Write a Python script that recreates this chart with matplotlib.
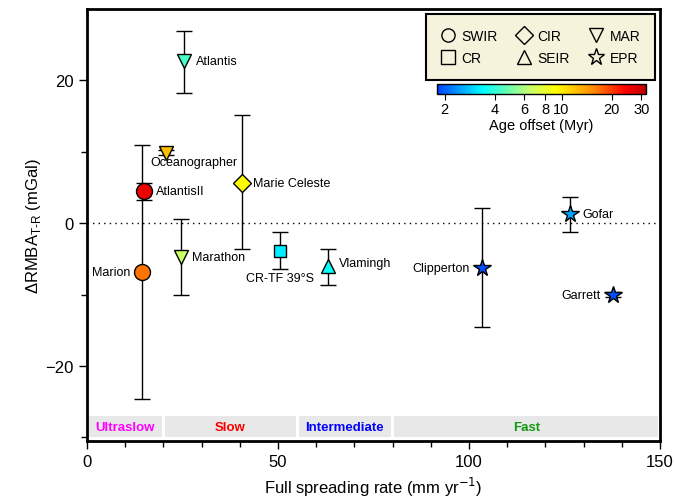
import numpy as np
import matplotlib
matplotlib.use("Agg")
import matplotlib.pyplot as plt
from matplotlib.colors import LinearSegmentedColormap, LogNorm
from matplotlib.lines import Line2D

plt.rcParams['font.family'] = ['Liberation Sans', 'DejaVu Sans']

# transform faults: name, ridge, full spreading rate, dRMBA, error, age offset
names = ["Marion", "AtlantisII", "Atlantis", "Oceanographer", "Marathon",
         "Marie Celeste", "CR-TF 39°S", "Vlamingh", "Clipperton", "Gofar", "Garrett"]
ridges = ["SWIR", "SWIR", "MAR", "MAR", "MAR", "CIR", "CR", "SEIR", "EPR", "EPR", "EPR"]
rate = [14.3, 14.8, 25.4, 20.7, 24.5, 40.5, 50.5, 63.0, 103.3, 126.5, 137.6]
drmba = [-6.9, 4.5, 22.7, 9.9, -4.8, 5.7, -3.9, -6.0, -6.3, 1.3, -10.0]
err_lo = [17.7, 1.3, 4.4, 0.4, 5.2, 9.3, 2.5, 2.7, 8.2, 2.5, 0.3]
err_hi = [17.8, 1.2, 4.2, 0.4, 5.4, 9.4, 2.6, 2.4, 8.4, 2.4, 0.3]
age = [16.5, 26.0, 4.3, 12.3, 6.6, 9.5, 3.2, 3.5, 1.9, 2.5, 1.9]

ridge_marker = {"SWIR": "o", "CR": "s", "CIR": "D", "SEIR": "^", "MAR": "v", "EPR": "*"}
ridge_size = {"SWIR": 11.5, "CR": 8, "CIR": 9, "SEIR": 10, "MAR": 10, "EPR": 13}
legend_order = ["SWIR", "CR", "CIR", "SEIR", "MAR", "EPR"]

# label placement (pixel offsets from the symbol, horizontal alignment)
label_pos = {
    "Marion": (-11, 0, "right"), "AtlantisII": (12, 0, "left"),
    "Atlantis": (12, 0, "left"), "Oceanographer": (28, -9, "center"),
    "Marathon": (11, 0, "left"), "Marie Celeste": (11, 0, "left"),
    "CR-TF 39°S": (0, -27, "center"), "Vlamingh": (11, 3, "left"),
    "Clipperton": (-12, 0, "right"), "Gofar": (12, 0, "left"),
    "Garrett": (-12, 0, "right"),
}

# spreading-rate classes
regimes = ["Ultraslow", "Slow", "Intermediate", "Fast"]
regime_start = [0, 20, 55, 80]
regime_end = [20, 55, 80, 150]
regime_color = ["#ff00ff", "#ff0000", "#0000ff", "#119911"]

cmap = LinearSegmentedColormap.from_list(
    "age", [(0.0, "#0040ff"), (0.22, "#00ffff"), (0.45, "#ccff66"),
            (0.57, "#ffff00"), (0.75, "#ff8800"), (0.9, "#ff0000"),
            (1.0, "#c00000")])
norm = LogNorm(1.8, 32)

fig = plt.figure(figsize=(6.75, 5.02), dpi=100)
ax = fig.add_axes([87 / 675, 1 - 442 / 502, 573 / 675, 432 / 502])

ax.axhline(0, color="k", ls=(0, (1, 3)), lw=1, zorder=1)

for i, n in enumerate(names):
    ax.errorbar(rate[i], drmba[i], yerr=[[err_lo[i]], [err_hi[i]]], fmt="none",
                ecolor="k", elinewidth=1, capsize=6, capthick=1, zorder=2)
for i, n in enumerate(names):
    r = ridges[i]
    ax.plot(rate[i], drmba[i], ridge_marker[r], ms=ridge_size[r],
            mfc=cmap(norm(age[i])), mec="k", mew=1, zorder=3)
    dx, dy, ha = label_pos[n]
    ax.annotate(n, (rate[i], drmba[i]), xytext=(dx, dy), textcoords="offset pixels",
                ha=ha, va="center", fontsize=9, zorder=4)

for k, lab in enumerate(regimes):
    ax.axvspan(regime_start[k] + 0.4, regime_end[k] - 0.4, ymin=0.01, ymax=0.058,
               color="#e8e8e8", lw=0, zorder=0)
    ax.text((regime_start[k] + regime_end[k]) / 2, 0.032, lab, color=regime_color[k],
            transform=ax.get_xaxis_transform(), ha="center", va="center",
            fontsize=9.5, fontweight="bold")

ax.set_xlim(0, 150)
ax.set_ylim(-30.5, 30)
ax.set_xticks([0, 50, 100, 150])
ax.set_xticks(np.arange(0, 151, 10), minor=True)
ax.set_yticks([-20, 0, 20])
ax.set_yticks([-30, -10, 10], minor=True)
ax.set_yticklabels(["\u221220", "0", "20"])
ax.tick_params(which="both", direction="out", labelsize=12, width=1)
ax.tick_params(which="major", length=6)
ax.tick_params(which="minor", length=4)
for s in ax.spines.values():
    s.set_linewidth(2)

ax.set_xlabel("Full spreading rate (mm yr$^{-1}$)", fontsize=12)
ax.set_ylabel("\u0394RMBA$_{\\mathregular{T\u2010R}}$ (mGal)", fontsize=12, labelpad=2)

handles = [Line2D([], [], ls="none", marker=ridge_marker[r], mfc="none", mec="k",
                  ms=9.5 if r != "EPR" else 12.5, mew=1) for r in legend_order]
leg = ax.legend(handles, legend_order, ncol=3, loc="upper left",
                bbox_to_anchor=((426 - 87) / 573, 1 - 5 / 432, (655 - 426) / 573, 0),
                mode="expand", fontsize=10, handlelength=1.0, handletextpad=0.5,
                columnspacing=0.8, labelspacing=0.6, borderpad=1.05,
                borderaxespad=0, fancybox=False, framealpha=1)
leg.get_frame().set_facecolor("#f5f3dc")
leg.get_frame().set_edgecolor("k")
leg.get_frame().set_linewidth(1.5)

cax = fig.add_axes([437 / 675, 1 - 95 / 502, 209 / 675, 10 / 502])
cb = fig.colorbar(plt.cm.ScalarMappable(norm=norm, cmap=cmap), cax=cax,
                  orientation="horizontal")
cb.set_ticks([2, 4, 6, 8, 10, 20, 30])
cb.set_ticklabels(["2", "4", "6", "8", "10", "20", "30"])
cb.minorticks_off()
cb.ax.tick_params(labelsize=10.5, length=4, pad=2)
cb.set_label("Age offset (Myr)", fontsize=10.5, labelpad=1)
cb.outline.set_linewidth(1)

fig.savefig("out.png", dpi=100)
